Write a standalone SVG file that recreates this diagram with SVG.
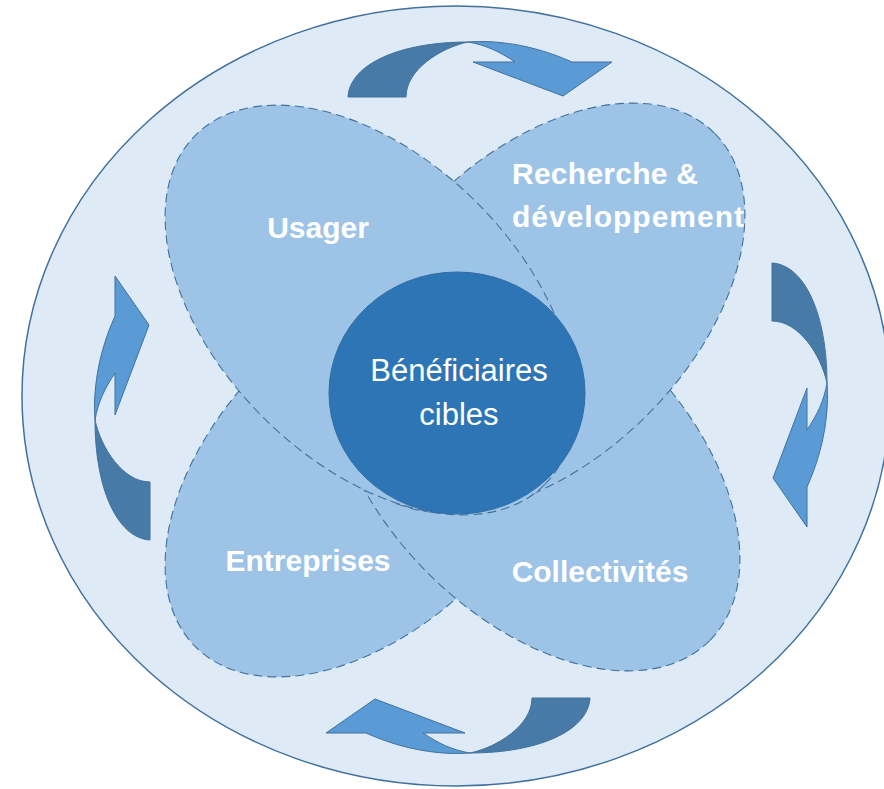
<svg xmlns="http://www.w3.org/2000/svg" width="884" height="789" viewBox="0 0 884 789">
  <style>
    .bg { fill: #DEEBF7; stroke: #41719C; stroke-width: 1.5; }
    .lobe { fill: #9DC3E6; stroke: #41719C; stroke-width: 1.1; stroke-dasharray: 9 5; }
    .core { fill: #2E75B6; stroke: #2F6CA5; stroke-width: 1; }
    .lbl { font-family: "Liberation Sans", Arial, sans-serif; font-weight: bold; font-size: 30px; fill: #FFFFFF; }
    .corelbl { font-family: "Liberation Sans", Arial, sans-serif; font-size: 31px; fill: #FFFFFF; }
    .adark { fill: #477AA7; stroke: #41719C; stroke-width: 1; }
    .alight { fill: #5B9BD5; stroke: #41719C; stroke-width: 1; }
  </style>
  <defs>
    <g id="curvedArrow">
      <path class="adark" d="M348,97 C350,64 400,42 468,42 C440,48 406,70 406,97 Z"/>
      <path class="alight" d="M468,42 C495,40 532,44 572,62 L612,62 L563,96 L473,62 L515,62 C500,52 486,45 468,42 Z"/>
    </g>
  </defs>

  <g id="background">
    <ellipse class="bg" cx="456" cy="396" rx="434" ry="390"/>
  </g>

  <g id="connectors">
    <use href="#curvedArrow"/>
    <use href="#curvedArrow" transform="translate(869,-85) rotate(90)"/>
    <use href="#curvedArrow" transform="translate(938,795) rotate(180)"/>
    <use href="#curvedArrow" transform="translate(53,888) rotate(-90)"/>
  </g>

  <g id="entreprises">
    <ellipse class="lobe" cx="370" cy="472" rx="247" ry="151.5" transform="rotate(-45 370 472)"/>
  </g>
  <g id="collectivites">
    <ellipse class="lobe" cx="535" cy="466" rx="247" ry="151.5" transform="rotate(45 535 466)"/>
  </g>
  <g id="recherche">
    <ellipse class="lobe" cx="540" cy="308" rx="247" ry="151.5" transform="rotate(-45 540 308)"/>
  </g>
  <g id="usager">
    <ellipse class="lobe" cx="370" cy="310" rx="247" ry="151.5" transform="rotate(45 370 310)"/>
  </g>

  <g id="labels">
    <text class="lbl" x="318" y="238" text-anchor="middle">Usager</text>
    <text class="lbl" x="512" y="184" textLength="186" lengthAdjust="spacing">Recherche &amp;</text>
    <text class="lbl" x="512" y="227" textLength="232" lengthAdjust="spacing">développement</text>
    <text class="lbl" x="308" y="571" text-anchor="middle">Entreprises</text>
    <text class="lbl" x="600" y="582" text-anchor="middle">Collectivités</text>
  </g>

  <g id="beneficiaires">
    <ellipse class="core" cx="457" cy="393" rx="128" ry="121"/>
    <text class="corelbl" x="459" y="381" text-anchor="middle">Bénéficiaires</text>
    <text class="corelbl" x="459" y="425" text-anchor="middle">cibles</text>
  </g>
</svg>
